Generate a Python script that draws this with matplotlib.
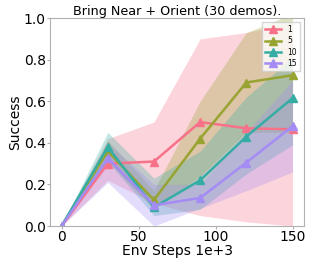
import matplotlib
matplotlib.use("Agg")
import matplotlib.pyplot as plt
import numpy as np

steps = [0, 30, 60, 90, 120, 150]
labels = ['1', '5', '10', '15']
colors = ['#f77189', '#97a431', '#36ada4', '#a48cf4']

mean_1 = [0, 0.30, 0.31, 0.50, 0.47, 0.465]
low_1 = [0, 0.22, 0.11, 0.05, 0.02, 0.0]
high_1 = [0, 0.42, 0.50, 0.90, 0.93, 0.98]

mean_5 = [0, 0.36, 0.125, 0.42, 0.69, 0.725]
low_5 = [0, 0.31, 0.08, 0.24, 0.45, 0.45]
high_5 = [0, 0.41, 0.17, 0.60, 0.93, 1.02]

mean_10 = [0, 0.38, 0.09, 0.22, 0.43, 0.615]
low_10 = [0, 0.31, 0.05, 0.08, 0.25, 0.39]
high_10 = [0, 0.45, 0.23, 0.36, 0.62, 0.81]

mean_15 = [0, 0.325, 0.10, 0.135, 0.305, 0.48]
low_15 = [0, 0.21, 0.0, 0.085, 0.17, 0.26]
high_15 = [0, 0.40, 0.20, 0.20, 0.45, 0.70]

means = [mean_1, mean_5, mean_10, mean_15]
lows = [low_1, low_5, low_10, low_15]
highs = [high_1, high_5, high_10, high_15]

fig = plt.figure(figsize=(3.09, 2.58), dpi=100)
ax = fig.add_axes([0.162, 0.124, 0.822, 0.806])

for lab, c, m, lo, hi in zip(labels, colors, means, lows, highs):
    ax.fill_between(steps, lo, hi, color=c, alpha=0.3, linewidth=0)
    ax.plot(steps, m, color=c, marker='^', markersize=6, linewidth=1.8, label=lab)

ax.set_ylim(0, 1.0)
ax.set_xticks([0, 50, 100, 150])
ax.set_yticks([0.0, 0.2, 0.4, 0.6, 0.8, 1.0])
ax.tick_params(labelsize=10, length=2, color='#b0b0b0', pad=1)
for s in ax.spines.values():
    s.set_color('#b0b0b0')
    s.set_linewidth(0.8)

ax.set_xlabel('Env Steps 1e+3', fontsize=10, labelpad=0)
ax.set_ylabel('Success', fontsize=10, labelpad=1)
ax.set_title('Bring Near + Orient (30 demos).', fontsize=9.2, pad=2)

ax.legend(loc='upper right', fontsize=5.5, handlelength=2.2, borderpad=0.4,
          labelspacing=0.3, edgecolor='#cccccc', fancybox=False)

fig.savefig('out.png', dpi=100)
